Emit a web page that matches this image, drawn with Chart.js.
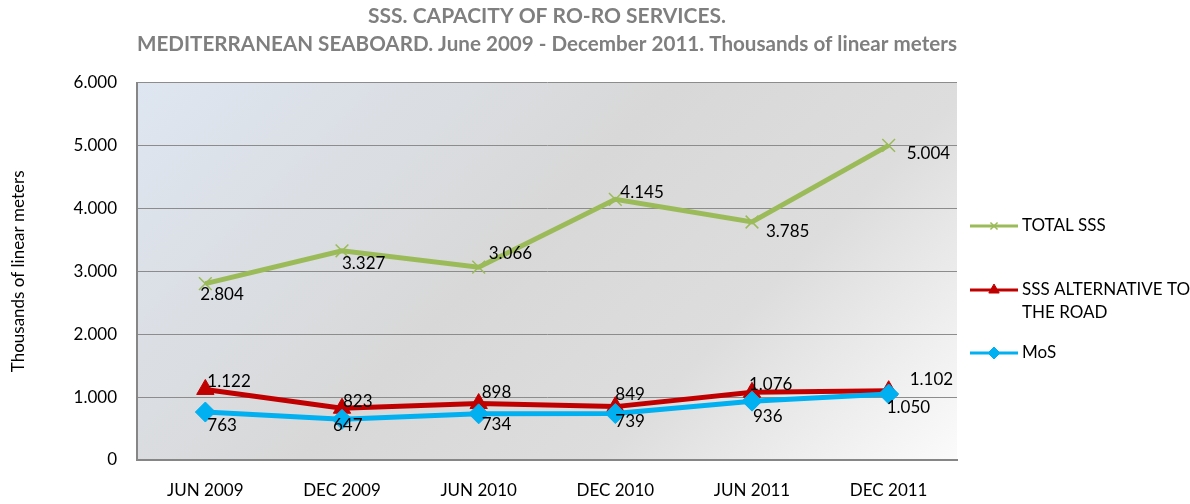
<!DOCTYPE html>
<html>
<head>
<meta charset="utf-8">
<script src="https://cdn.jsdelivr.net/npm/chart.js@4.4.1/dist/chart.umd.min.js"></script>
<style>
  html, body { margin: 0; padding: 0; background: #fff; }
  #wrap { width: 1190px; height: 504px; }
</style>
</head>
<body>
<div id="wrap"><canvas id="line-chart" width="1190" height="504"></canvas></div>
<script>
// data
var categories = ["JUN 2009", "DEC 2009", "JUN 2010", "DEC 2010", "JUN 2011", "DEC 2011"];
var totalSSS = [2804, 3327, 3066, 4145, 3785, 5004];
var sssAlternative = [1122, 823, 898, 849, 1076, 1102];
var mos = [763, 647, 734, 739, 936, 1050];
var yTicks = [0, 1000, 2000, 3000, 4000, 5000, 6000];
var legendLines = [["TOTAL SSS"], ["SSS ALTERNATIVE TO", "THE ROAD"], ["MoS"]];

// where each value label sits relative to its point (dx to left edge, dy to middle)
var labelOffsets = [
  [[-5, 11], [0, 13], [10, -14], [5, -7], [14, 10], [18, 8]],
  [[2, -8], [1, -7], [3, -11], [0, -12], [-3, -8], [21, -11]],
  [[2, 13], [-9, 6], [3, 11], [0, 8], [1, 15], [-2, 14]]
];

var FONT = "Lato, 'Open Sans', sans-serif";

function fmt(v) {
  // 5004 -> "5.004"
  return String(v).replace(/\B(?=(\d{3})+(?!\d))/g, ".");
}

var plotBackground = {
  id: 'plotBackground',
  beforeDraw: function(chart) {
    var a = chart.chartArea, ctx = chart.ctx;
    var w = a.right - a.left, h = a.bottom - a.top;
    var s = (w + h) / 2;
    // 45 degree gradient, blue-grey top left to white bottom right
    var g = ctx.createLinearGradient(a.left, a.top, a.left + s, a.top + s);
    g.addColorStop(0, '#dee6f1');
    g.addColorStop(0.45, '#d8d8d8');
    g.addColorStop(0.7, '#dddddd');
    g.addColorStop(1, '#fbfbfb');
    ctx.save();
    ctx.fillStyle = g;
    ctx.fillRect(a.left, a.top, w, h);
    ctx.restore();
  }
};

var valueLabels = {
  id: 'valueLabels',
  afterDatasetsDraw: function(chart) {
    var ctx = chart.ctx;
    ctx.save();
    ctx.font = "17px " + FONT;
    ctx.fillStyle = '#000';
    ctx.textAlign = 'left';
    ctx.textBaseline = 'middle';
    chart.data.datasets.forEach(function(ds, di) {
      var meta = chart.getDatasetMeta(di);
      meta.data.forEach(function(pt, i) {
        var off = labelOffsets[di][i];
        ctx.fillText(fmt(ds.data[i]), pt.x + off[0], pt.y + off[1]);
      });
    });
    ctx.restore();
  }
};

var sideLegend = {
  id: 'sideLegend',
  afterDraw: function(chart) {
    var ctx = chart.ctx;
    var rowY = [226, 290, 353];
    ctx.save();
    chart.data.datasets.forEach(function(ds, i) {
      var y = rowY[i];
      ctx.strokeStyle = ds.borderColor;
      ctx.lineWidth = 3;
      ctx.beginPath();
      ctx.moveTo(970, y);
      ctx.lineTo(1018, y);
      ctx.stroke();
      ctx.fillStyle = ds.pointBackgroundColor;
      ctx.strokeStyle = ds.pointBorderColor;
      ctx.lineWidth = ds.pointBorderWidth;
      Chart.helpers.drawPoint(ctx, {
        pointStyle: ds.pointStyle,
        radius: ds.pointStyle === 'crossRot' ? 5 : 6,
        borderWidth: ds.pointBorderWidth,
        rotation: 0
      }, 994, y);
      ctx.fillStyle = '#000';
      ctx.font = "17px " + FONT;
      ctx.textAlign = 'left';
      ctx.textBaseline = 'middle';
      legendLines[i].forEach(function(t, k) {
        ctx.fillText(t, 1022, y + k * 23);
      });
    });
    ctx.restore();
  }
};

new Chart(document.getElementById("line-chart"), {
  type: 'line',
  data: {
    labels: categories,
    datasets: [
      {
        label: "TOTAL SSS",
        data: totalSSS,
        borderColor: '#9bbb59',
        backgroundColor: '#9bbb59',
        borderWidth: 5,
        pointStyle: 'crossRot',
        pointRadius: 9,
        pointBorderWidth: 1.5,
        pointBorderColor: '#9bbb59',
        pointBackgroundColor: '#9bbb59',
        tension: 0,
        order: 2
      },
      {
        label: "SSS ALTERNATIVE TO THE ROAD",
        data: sssAlternative,
        borderColor: '#c00000',
        backgroundColor: '#c00000',
        borderWidth: 5,
        pointStyle: 'triangle',
        pointRadius: 10,
        pointBorderWidth: 1,
        pointBorderColor: '#c00000',
        pointBackgroundColor: '#c00000',
        tension: 0,
        order: 1
      },
      {
        label: "MoS",
        data: mos,
        borderColor: '#00b0f0',
        backgroundColor: '#00b0f0',
        borderWidth: 5,
        pointStyle: 'rectRot',
        pointRadius: 10,
        pointBorderWidth: 1,
        pointBorderColor: '#00b0f0',
        pointBackgroundColor: '#00b0f0',
        tension: 0,
        order: 0
      }
    ]
  },
  options: {
    responsive: false,
    animation: false,
    layout: { padding: { left: 0, right: 233, top: 0, bottom: 0 } },
    plugins: {
      legend: { display: false },
      tooltip: { enabled: false },
      title: {
        display: true,
        fullSize: false,
        text: ["SSS. CAPACITY OF RO-RO SERVICES.",
               "MEDITERRANEAN SEABOARD. June 2009 - December 2011. Thousands of linear meters"],
        color: '#7f7f7f',
        font: { family: FONT, size: 21, weight: 'bold', lineHeight: 1.35 },
        padding: { top: 2, bottom: 24 }
      }
    },
    scales: {
      x: {
        offset: true,
        grid: { display: false, offset: true },
        border: { display: true, color: '#868686', width: 2 },
        ticks: {
          color: '#000',
          padding: 12,
          maxRotation: 0,
          font: { family: FONT, size: 17 }
        },
        afterFit: function(s) { s.height = 44; }
      },
      y: {
        min: 0,
        max: 6000,
        afterBuildTicks: function(s) {
          s.ticks = yTicks.map(function(v) { return { value: v }; });
        },
        grid: { color: '#8c8c8c', lineWidth: 1, drawTicks: false },
        border: { display: true, color: '#868686', width: 2 },
        ticks: {
          color: '#000',
          padding: 20,
          font: { family: FONT, size: 17 },
          callback: function(v) { return fmt(v); }
        },
        title: {
          display: true,
          text: "Thousands of linear meters",
          color: '#000',
          font: { family: FONT, size: 17 },
          padding: { top: 8, bottom: 0 }
        },
        afterFit: function(s) { s.width = 137; }
      }
    }
  },
  plugins: [plotBackground, valueLabels, sideLegend]
});
</script>
</body>
</html>
